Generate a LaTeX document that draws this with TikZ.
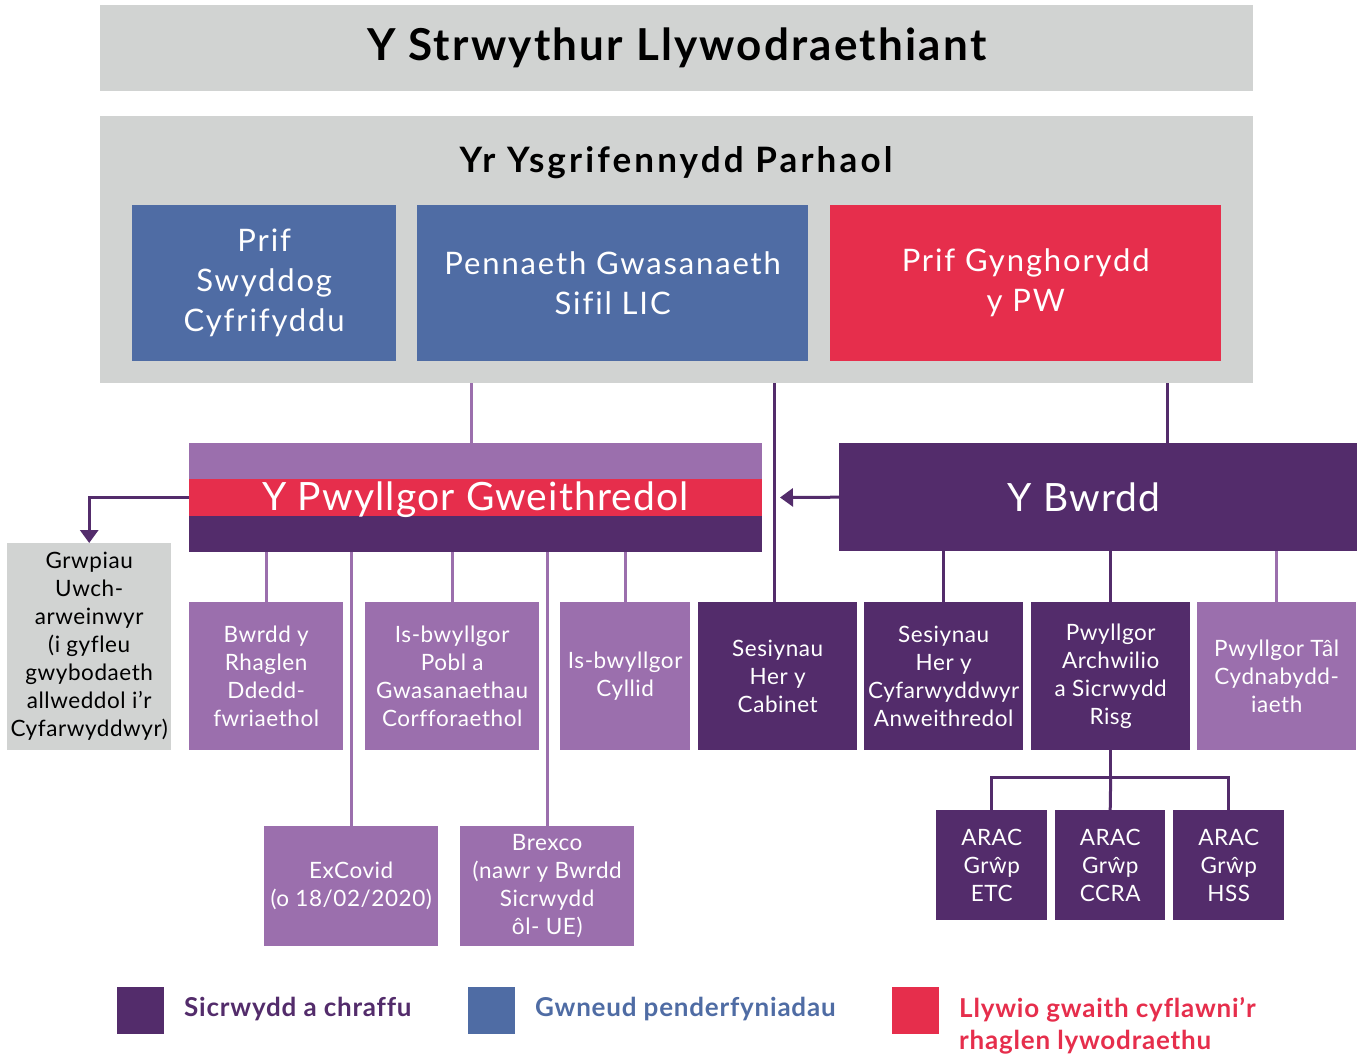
\documentclass[tikz,border=0pt]{standalone}
\usepackage{fontspec}
\setmainfont{Lato}[Ligatures=NoCommon]
\usetikzlibrary{arrows.meta}
\definecolor{dp}{HTML}{532C6B}
\definecolor{lp}{HTML}{9B6FAD}
\definecolor{rd}{HTML}{E62E4C}
\definecolor{bl}{HTML}{4F6CA4}
\definecolor{gr}{HTML}{D1D3D2}
\begin{document}
\begin{tikzpicture}[x=1pt,y=-1pt,
  bx/.style={anchor=north west, inner sep=0pt, align=center, text=white, font=\fontsize{22.5}{28}\selectfont\addfontfeatures{LetterSpace=2.5}},
  big/.style={bx, font=\fontsize{31}{40}\selectfont\addfontfeatures{LetterSpace=6}},
  hdr/.style={bx, font=\fontsize{39}{39}\selectfont\addfontfeatures{LetterSpace=3}},
  dpl/.style={draw=dp, line width=3pt},
  lpl/.style={draw=lp, line width=3pt},
  tip/.style={-{Triangle[length=13pt,width=18pt]}},
  leg/.style={anchor=north west, inner sep=0pt, align=left, font=\bfseries\fontsize{26}{32}\selectfont\addfontfeatures{LetterSpace=3}},
]
\useasboundingbox (0,0) rectangle (1357,1054);
% title
\node[bx, fill=gr, minimum width=1153pt, minimum height=86pt, text=black, font=\bfseries\fontsize{44}{44}\selectfont\addfontfeatures{LetterSpace=5}] (title) at (100,5) {Y Strwythur Llywodraethiant};
% permanent secretary
\node[bx, fill=gr, minimum width=1153pt, minimum height=267pt] (ps) at (100,116) {};
\node[text=black, font=\bfseries\fontsize{35}{35}\selectfont\addfontfeatures{LetterSpace=9}, inner sep=0pt] (pst) at (676,163) {Yr Ysgrifennydd Parhaol};
\node[big, fill=bl, minimum width=264pt, minimum height=156pt] (psc) at (132,205) {Prif\\Swyddog\\Cyfrifyddu};
\node[big, fill=bl, minimum width=391pt, minimum height=156pt] (pgs) at (417,205) {Pennaeth Gwasanaeth\\Sifil LIC};
\node[big, fill=rd, minimum width=391pt, minimum height=156pt] (pgy) at (830,205) {Prif Gynghorydd\\y PW};
% executive committee
\node[bx, fill=lp, minimum width=573pt, minimum height=109pt] (pg) at (189,443) {};
\fill[rd] (189,479) rectangle (762,516);
\fill[dp] (189,516) rectangle (762,552);
\node[hdr, anchor=center, yshift=-2pt] (pgt) at (pg.center) {Y Pwyllgor Gweithredol};
% board
\node[hdr, fill=dp, minimum width=518pt, minimum height=108pt] (bwrdd) at (839,443) {Y Bwrdd\hspace*{28pt}};
% left grey
\node[bx, fill=gr, text=black, minimum width=164pt, minimum height=207pt] (grw) at (7,543) {Grwpiau\\Uwch-\\arweinwyr\\(i gyfleu\\gwybodaeth\\allweddol i’r\\Cyfarwyddwyr)};
% row
\node[bx, fill=lp, minimum width=154pt, minimum height=148pt] (rhag) at (189,602) {Bwrdd y\\Rhaglen\\Ddedd-\\fwriaethol};
\node[bx, fill=lp, minimum width=174pt, minimum height=148pt] (pobl) at (365,602) {Is-bwyllgor\\Pobl a\\Gwasanaethau\\Corfforaethol};
\node[bx, fill=lp, minimum width=130pt, minimum height=148pt] (cyll) at (560,602) {Is-bwyllgor\\Cyllid};
\node[bx, fill=dp, minimum width=159pt, minimum height=148pt] (cab) at (698,602) {Sesiynau\\Her y\\Cabinet};
\node[bx, fill=dp, minimum width=159pt, minimum height=148pt] (cyf) at (864,602) {Sesiynau\\Her y\\Cyfarwyddwyr\\Anweithredol};
\node[bx, fill=dp, minimum width=159pt, minimum height=148pt] (arch) at (1031,602) {Pwyllgor\\Archwilio\\a Sicrwydd\\Risg};
\node[bx, fill=lp, minimum width=159pt, minimum height=148pt] (tal) at (1197,602) {Pwyllgor Tâl\\Cydnabydd-\\iaeth};
% lower
\node[bx, fill=lp, minimum width=174pt, minimum height=120pt] (exc) at (264,826) {ExCovid\\(o 18/02/2020)};
\node[bx, fill=lp, minimum width=174pt, minimum height=120pt] (brx) at (460,826) {Brexco\\(nawr y Bwrdd\\Sicrwydd\\ôl- UE)};
\node[bx, fill=dp, minimum width=111pt, minimum height=110pt] (ar1) at (936,810) {ARAC\\Grŵp\\ETC};
\node[bx, fill=dp, minimum width=110pt, minimum height=110pt] (ar2) at (1055,810) {ARAC\\Grŵp\\CCRA};
\node[bx, fill=dp, minimum width=111pt, minimum height=110pt] (ar3) at (1173,810) {ARAC\\Grŵp\\HSS};
% connectors
\coordinate (c1) at (471,383);
\coordinate (c2) at (1167,383);
\coordinate (c3) at (774,383);
\coordinate (a1) at (780,497.5);
\draw[lpl] (c1) -- (c1 |- pg.north);
\draw[dpl] (c3) -- (c3 |- cab.north);
\draw[dpl] (c2) -- (c2 |- bwrdd.north);
\draw[dpl, tip] (bwrdd.west) -- (a1);
\draw[dpl, tip] (pg.west) -| (grw.north);
\draw[lpl] (rhag.north) -- (rhag.north |- pg.south);
\draw[lpl] (pobl.north) -- (pobl.north |- pg.south);
\draw[lpl] (cyll.north) -- (cyll.north |- pg.south);
\draw[lpl] (exc.north) -- (exc.north |- pg.south);
\draw[lpl] (brx.north) -- (brx.north |- pg.south);
\draw[dpl] (cyf.north) -- (cyf.north |- bwrdd.south);
\draw[dpl] (arch.north) -- (arch.north |- bwrdd.south);
\draw[lpl] (tal.north) -- (tal.north |- bwrdd.south);
\draw[dpl] (arch.south) -- ++(0,27) coordinate (j);
\draw[dpl] (ar1.north) |- (j) -| (ar3.north);
\draw[dpl] (j) -- (ar2.north);
% legend
\node[fill=dp, anchor=north west, minimum width=47pt, minimum height=47pt, inner sep=0pt] (k1) at (117,987) {};
\node[fill=bl, anchor=north west, minimum width=47pt, minimum height=47pt, inner sep=0pt] (k2) at (468,987) {};
\node[fill=rd, anchor=north west, minimum width=47pt, minimum height=47pt, inner sep=0pt] (k3) at (892,987) {};
\node[leg, text=dp] (l1) at (184,997) {Sicrwydd a chraffu};
\node[leg, text=bl] (l2) at (535,997) {Gwneud penderfyniadau};
\node[leg, text=rd] (l3) at (959,997) {Llywio gwaith cyflawni’r\\rhaglen lywodraethu};
\end{tikzpicture}
\end{document}
